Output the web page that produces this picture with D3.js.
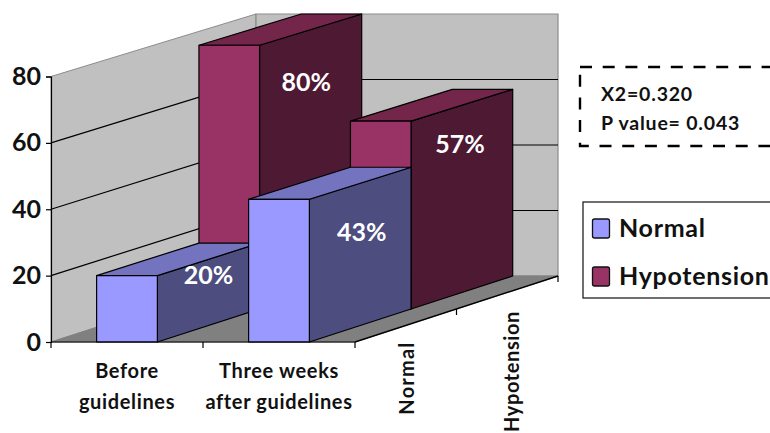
<!DOCTYPE html>
<html>
<head>
<meta charset="utf-8">
<script src="https://cdn.jsdelivr.net/npm/d3@7/dist/d3.min.js"></script>
<style>
html,body{margin:0;padding:0;background:#fff;overflow:hidden}
svg{display:block}
text{font-family:Lato,"Open Sans",sans-serif;font-weight:700;fill:#111}
</style>
</head>
<body>
<svg id="chart" width="770" height="433"></svg>
<script>
// Chart values
const categories = ["Before guidelines", "Three weeks after guidelines"];
const categoryLines = [["Before", "guidelines"], ["Three weeks", "after guidelines"]];
const seriesNames = ["Normal", "Hypotension"];
const normalValues = [20, 43];
const hypotensionValues = [80, 57];
const yTicks = [0, 20, 40, 60, 80];
const statLines = ["X2=0.320", "P value= 0.043"];

const svg = d3.select("#chart");

// Oblique 3D frame: front plane and back wall, blended by depth d in [0,1]
const xFront = d3.scaleLinear().domain([0, 1]).range([51, 355]);
const xBack = d3.scaleLinear().domain([0, 1]).range([256, 558]);
const yFront = d3.scaleLinear().domain([0, 80]).range([342, 76.5]);
const yBack = d3.scaleLinear().domain([0, 80]).range([276, 14]);
const band = d3.scaleBand().domain(categories).range([0, 1]).paddingInner(0.6).paddingOuter(0.3);
const depth = d3.scaleBand().domain(seriesNames).range([0, 1]);

const pt = (t, d, v) => [
  d3.interpolateNumber(xFront(t), xBack(t))(d),
  d3.interpolateNumber(yFront(v), yBack(v))(d)
];
const poly = pts => "M" + pts.map(p => p.join(",")).join("L") + "Z";
const seg = (a, b) => "M" + a.join(",") + "L" + b.join(",");

const walls = svg.append("g");
// Left wall, back wall, floor
walls.append("path").attr("d", poly([pt(0,0,0), pt(0,1,0), pt(0,1,80), pt(0,0,80)]))
  .attr("fill", "#c0c0c0").attr("stroke", "#8c8c8c");
walls.append("path").attr("d", poly([pt(0,1,0), pt(1,1,0), pt(1,1,80), pt(0,1,80)]))
  .attr("fill", "#c0c0c0").attr("stroke", "#8c8c8c").attr("stroke-width", 1.2);
walls.append("path").attr("d", poly([pt(0,0,0), pt(1,0,0), pt(1,1,0), pt(0,1,0)]))
  .attr("fill", "#808080").attr("stroke", "#808080");

// Gridlines run along the left wall, then across the back wall
const grid = walls.append("g").attr("fill", "none").attr("stroke", "#000").attr("stroke-width", 1.2);
yTicks.filter(v => v > 0 && v < 80).forEach(v => {
  grid.append("path").attr("d", seg(pt(0,0,v), pt(0,1,v)));
  grid.append("path").attr("d", seg(pt(0,1,v), pt(1,1,v)));
});

// Bars, painted from the back row forward
const barColors = {
  Normal: { front: "#9999ff", top: "#7373bf", side: "#4d4d80" },
  Hypotension: { front: "#993366", top: "#732649", side: "#4d1933" }
};
const rows = [
  { name: "Hypotension", values: hypotensionValues },
  { name: "Normal", values: normalValues }
];
const bars = svg.append("g").attr("stroke", "#000").attr("stroke-width", 1.2).attr("stroke-linejoin", "round");
rows.forEach(row => {
  const d0 = depth(row.name), d1 = d0 + depth.bandwidth();
  const c = barColors[row.name];
  row.values.forEach((v, i) => {
    const t0 = band(categories[i]), t1 = t0 + band.bandwidth();
    bars.append("path").attr("fill", c.side)
      .attr("d", poly([pt(t1,d0,0), pt(t1,d1,0), pt(t1,d1,v), pt(t1,d0,v)]));
    bars.append("path").attr("fill", c.top)
      .attr("d", poly([pt(t0,d0,v), pt(t1,d0,v), pt(t1,d1,v), pt(t0,d1,v)]));
    bars.append("path").attr("fill", c.front)
      .attr("d", poly([pt(t0,d0,0), pt(t1,d0,0), pt(t1,d0,v), pt(t0,d0,v)]));
  });
});

// Value axis on the front-left edge
const yAxis = svg.append("g").attr("transform", "translate(51,0)")
  .call(d3.axisLeft(yFront).tickValues(yTicks).tickSize(5).tickPadding(5).tickFormat(d3.format("d")));
yAxis.select(".domain").attr("stroke", "#000").attr("stroke-width", 1.2);
yAxis.selectAll("line").attr("stroke", "#000").attr("stroke-width", 1.2);
yAxis.selectAll("text").style("font-size", "25px").attr("fill", "#111").attr("font-family", null);

// Category axis along the front of the floor
const xAxis = svg.append("g").attr("fill", "none").attr("stroke", "#000").attr("stroke-width", 1.2);
xAxis.append("path").attr("d", seg(pt(0,0,0), pt(1,0,0)));
[0, 0.5, 1].forEach(t => {
  const p = pt(t, 0, 0);
  xAxis.append("path").attr("d", seg(p, [p[0], p[1] + 6]));
});
// Series axis along the right of the floor
xAxis.append("path").attr("d", seg(pt(1,0,0), pt(1,1,0))).attr("stroke-width", 1.4);
[0.5, 1].forEach(d => {
  const p = pt(1, d, 0);
  xAxis.append("path").attr("d", seg(p, [p[0], p[1] + 6]));
});

categoryLines.forEach((lines, i) => {
  const cx = xFront(band(categories[i]) + band.bandwidth() / 2);
  lines.forEach((line, k) => {
    svg.append("text").attr("x", cx).attr("y", 378 + k * 31)
      .attr("text-anchor", "middle").style("font-size", "20px").style("letter-spacing", "0.65px").text(line);
  });
});

// Rotated series names below the right floor edge; the longer one is tightened to stay on the page
seriesNames.forEach((name, i) => {
  const d = depth(name) + depth.bandwidth() / 2;
  const p = pt(1, d, 0);
  svg.append("text")
    .attr("transform", `translate(${p[0] + (i ? 12 : 8)},${p[1] + (i ? 18.5 : 16)}) rotate(-90)`)
    .attr("text-anchor", "end").style("font-size", "20px").style("letter-spacing", i ? "0.6px" : "1.2px").text(name);
});

// Percentages on the bar side faces
const labelNudge = { Normal: [[2, 17], [3.5, 50]], Hypotension: [[-2.5, 53], [0, 40]] };
rows.forEach(row => {
  const d0 = depth(row.name), d1 = d0 + depth.bandwidth();
  row.values.forEach((v, i) => {
    const t1 = band(categories[i]) + band.bandwidth();
    const a = pt(t1, d0, v), b = pt(t1, d1, v);
    const [nx, ny] = labelNudge[row.name][i];
    svg.append("text")
      .attr("x", (a[0] + b[0]) / 2 - 2 + nx)
      .attr("y", (a[1] + b[1]) / 2 + ny + 8)
      .attr("text-anchor", "middle")
      .style("font-size", "25px").style("fill", "#fff")
      .text(v + "%");
  });
});

// Test statistics box
svg.append("rect").attr("x", 580).attr("y", 67).attr("width", 260).attr("height", 79)
  .attr("fill", "none").attr("stroke", "#000").attr("stroke-width", 2.4).attr("stroke-dasharray", "12 10.7");
statLines.forEach((line, i) => {
  svg.append("text").attr("x", 601).attr("y", 101 + i * 29)
    .style("font-size", "19.5px").style("letter-spacing", "0.8px").text(line);
});

// Legend
svg.append("rect").attr("x", 583).attr("y", 202).attr("width", 260).attr("height", 96)
  .attr("fill", "#fff").attr("stroke", "#222").attr("stroke-width", 1.3);
seriesNames.forEach((name, i) => {
  const y = 219 + i * 48;
  svg.append("rect").attr("x", 592.5).attr("y", y).attr("width", 17).attr("height", 19).attr("rx", 2)
    .attr("fill", barColors[name].front).attr("stroke", "#111").attr("stroke-width", 1.3);
  svg.append("text").attr("x", 619).attr("y", y + 18)
    .style("font-size", "25px").style("letter-spacing", "0.7px").text(name);
});
</script>
</body>
</html>
